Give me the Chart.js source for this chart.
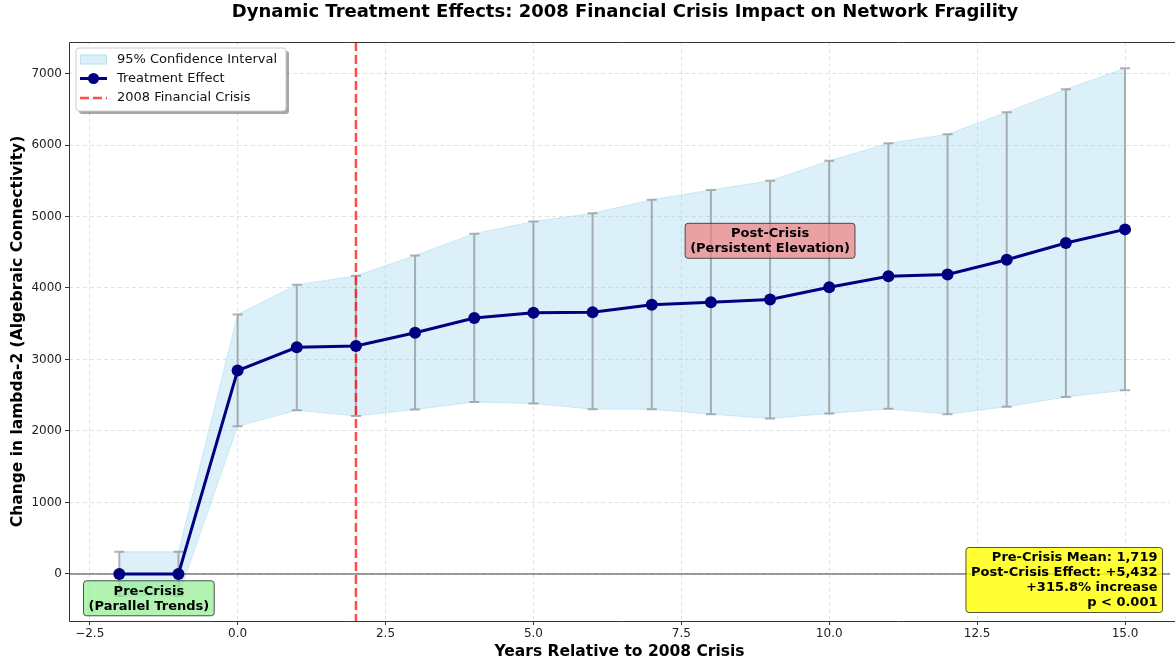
<!DOCTYPE html>
<html><head><meta charset="utf-8">
<script src="https://cdn.jsdelivr.net/npm/chart.js@4.4.0/dist/chart.umd.min.js"></script>
<style>html,body{margin:0;padding:0;background:#fff;}#wrap{width:1176px;height:663px;position:relative;}</style>
</head><body><div id="wrap"><canvas id="c" width="1176" height="663"></canvas></div>
<script>
// ---- data ----
const years = [-2,-1,0,1,2,3,4,5,6,7,8,9,10,11,12,13,14,15];
const effect  = [0,0,2845,3170,3190,3375,3580,3655,3660,3765,3800,3840,4010,4165,4190,4395,4630,4820];
const ciUpper = [310,310,3630,4045,4170,4455,4760,4930,5045,5235,5370,5500,5780,6025,6150,6460,6780,7075];
const ciLower = [-310,-310,2065,2290,2210,2300,2405,2385,2305,2305,2235,2175,2245,2310,2235,2340,2475,2570];
const xTicks = [-2.5,0,2.5,5,7.5,10,12.5,15];
const xTickLabels = ['\u22122.5','0.0','2.5','5.0','7.5','10.0','12.5','15.0'];
const yTicks = [0,1000,2000,3000,4000,5000,6000,7000];
const crisisYear = 2;
const seriesNames = ['95% Confidence Interval','Treatment Effect','2008 Financial Crisis'];
const titleText = 'Dynamic Treatment Effects: 2008 Financial Crisis Impact on Network Fragility';
const xTitle = 'Years Relative to 2008 Crisis';
const yTitle = 'Change in lambda-2 (Algebraic Connectivity)';
const preLabel = ['Pre-Crisis','(Parallel Trends)'];
const preAnchor = [-1.5, -340];
const postLabel = ['Post-Crisis','(Persistent Elevation)'];
const postAnchor = [9, 4660];
const statsLines = ['Pre-Crisis Mean: 1,719','Post-Crisis Effect: +5,432','+315.8% increase','p < 0.001'];

const FONT = "'DejaVu Sans', sans-serif";
const pts = arr => years.map((x,i)=>({x:x, y:arr[i]}));

function roundRect(ctx,x,y,w,h,r){
  ctx.beginPath();
  ctx.moveTo(x+r,y);ctx.lineTo(x+w-r,y);ctx.quadraticCurveTo(x+w,y,x+w,y+r);
  ctx.lineTo(x+w,y+h-r);ctx.quadraticCurveTo(x+w,y+h,x+w-r,y+h);
  ctx.lineTo(x+r,y+h);ctx.quadraticCurveTo(x,y+h,x,y+h-r);
  ctx.lineTo(x,y+r);ctx.quadraticCurveTo(x,y,x+r,y);ctx.closePath();
}

function textBox(ctx, lines, cx, cy, fill){
  ctx.save();
  ctx.font = "bold 13px " + FONT;
  const lh = 15;
  let w = 0; lines.forEach(l=>{w=Math.max(w,ctx.measureText(l).width);});
  const padX = 5, padY = 2.5;
  const bw = w + 2*padX, bh = lines.length*lh + 2*padY;
  const bx = cx - bw/2, by = cy - bh/2;
  roundRect(ctx,bx,by,bw,bh,3);
  ctx.fillStyle = fill; ctx.fill();
  ctx.strokeStyle = 'rgba(40,40,40,0.8)'; ctx.lineWidth = 1; ctx.stroke();
  ctx.fillStyle = '#000'; ctx.textBaseline = 'middle'; ctx.textAlign='center';
  lines.forEach((l,i)=>ctx.fillText(l, bx+bw/2, by + padY + lh*i + lh/2 + 0.5));
  ctx.restore();
}

const overlay = {
  id:'overlay',
  beforeDatasetDraw(chart, args){
    if (args.index !== 0) return;
    const ctx = chart.ctx, xs = chart.scales.x, ys = chart.scales.y, a = chart.chartArea;
    ctx.save();
    ctx.beginPath(); ctx.rect(a.left,a.top,a.right-a.left,a.bottom-a.top); ctx.clip();
    const y0 = ys.getPixelForValue(0);
    ctx.strokeStyle='rgba(0,0,0,0.5)'; ctx.lineWidth=1.5;
    ctx.beginPath(); ctx.moveTo(a.left,y0); ctx.lineTo(a.right,y0); ctx.stroke();
    ctx.strokeStyle='rgba(128,128,128,0.6)'; ctx.lineWidth=2;
    years.forEach((yr,i)=>{
      const px = xs.getPixelForValue(yr), pu = ys.getPixelForValue(ciUpper[i]), pl = ys.getPixelForValue(ciLower[i]);
      ctx.beginPath(); ctx.moveTo(px,pu); ctx.lineTo(px,pl);
      ctx.moveTo(px-5,pu); ctx.lineTo(px+5,pu);
      ctx.moveTo(px-5,pl); ctx.lineTo(px+5,pl); ctx.stroke();
    });
    const cx = xs.getPixelForValue(crisisYear);
    ctx.strokeStyle='rgba(255,0,0,0.7)'; ctx.lineWidth=2.5; ctx.setLineDash([9,4]);
    ctx.beginPath(); ctx.moveTo(cx,a.top); ctx.lineTo(cx,a.bottom); ctx.stroke();
    ctx.restore();
  },
  afterDraw(chart){
    const ctx = chart.ctx, xs = chart.scales.x, ys = chart.scales.y, a = chart.chartArea;
    ctx.save();
    ctx.strokeStyle='#333'; ctx.lineWidth=1;
    ctx.beginPath();
    ctx.moveTo(a.right+5, a.top+0.5); ctx.lineTo(a.left+0.5, a.top+0.5);
    ctx.lineTo(a.left+0.5, a.bottom+0.5); ctx.lineTo(a.right+5, a.bottom+0.5);
    ctx.stroke();
    ctx.fillStyle='#000'; ctx.font="bold 18px "+FONT; ctx.textAlign='center'; ctx.textBaseline='middle';
    ctx.fillText(titleText, 625, 12);
    textBox(ctx, preLabel, xs.getPixelForValue(preAnchor[0]), ys.getPixelForValue(preAnchor[1]), 'rgba(144,238,144,0.7)');
    textBox(ctx, postLabel, xs.getPixelForValue(postAnchor[0]), ys.getPixelForValue(postAnchor[1]), 'rgba(240,128,128,0.7)');
    (function(){
      ctx.save();
      ctx.font="bold 13px "+FONT;
      const lh=15; let w=0; statsLines.forEach(l=>{w=Math.max(w,ctx.measureText(l).width);});
      const padX=5,padY=2.5; const bw=w+2*padX, bh=statsLines.length*lh+2*padY;
      const right = 1162.5, bottom = 612.5;
      roundRect(ctx,right-bw,bottom-bh,bw,bh,3);
      ctx.fillStyle='rgba(255,255,0,0.8)'; ctx.fill();
      ctx.strokeStyle='rgba(40,40,40,0.8)'; ctx.lineWidth=1; ctx.stroke();
      ctx.fillStyle='#000'; ctx.textAlign='right'; ctx.textBaseline='middle';
      statsLines.forEach((l,i)=>ctx.fillText(l, right-padX, bottom-bh+padY+lh*i+lh/2+0.5));
      ctx.restore();
    })();
    const lx=76, ly=48, lw=210, lh=63;
    ctx.fillStyle='rgba(0,0,0,0.35)'; roundRect(ctx,lx+3,ly+3,lw,lh,3); ctx.fill();
    ctx.fillStyle='#fff'; roundRect(ctx,lx,ly,lw,lh,3); ctx.fill();
    ctx.strokeStyle='#ccc'; ctx.lineWidth=1; ctx.stroke();
    const rows=[59.5,78.5,98];
    ctx.fillStyle='rgba(135,206,235,0.3)'; ctx.fillRect(80,rows[0]-5,27,10);
    ctx.strokeStyle='rgba(135,206,235,0.4)'; ctx.strokeRect(80.5,rows[0]-4.5,26,9);
    ctx.strokeStyle='#000080'; ctx.lineWidth=3; ctx.beginPath(); ctx.moveTo(80,rows[1]); ctx.lineTo(107,rows[1]); ctx.stroke();
    ctx.fillStyle='#000080'; ctx.beginPath(); ctx.arc(93.5,rows[1],5.5,0,Math.PI*2); ctx.fill();
    ctx.strokeStyle='rgba(255,0,0,0.7)'; ctx.lineWidth=2.5; ctx.setLineDash([9,4]);
    ctx.beginPath(); ctx.moveTo(80,rows[2]); ctx.lineTo(107,rows[2]); ctx.stroke(); ctx.setLineDash([]);
    ctx.fillStyle='#111'; ctx.font="13px "+FONT; ctx.textAlign='left'; ctx.textBaseline='middle';
    seriesNames.forEach((n,i)=>ctx.fillText(n,117,rows[i]));
    ctx.restore();
  }
};

new Chart(document.getElementById('c'), {
  type:'line',
  data:{datasets:[
    {label:seriesNames[1], data:pts(effect), borderColor:'#000080', backgroundColor:'#000080', borderWidth:3,
     pointRadius:6, pointBackgroundColor:'#000080', pointBorderWidth:0, fill:false, tension:0},
    {label:'upper', data:pts(ciUpper), borderColor:'rgba(135,206,235,0.35)', borderWidth:1, pointRadius:0,
     backgroundColor:'rgba(135,206,235,0.3)', fill:'+1', tension:0},
    {label:'lower', data:pts(ciLower), borderColor:'rgba(135,206,235,0.35)', borderWidth:1, pointRadius:0, fill:false, tension:0}
  ]},
  options:{
    responsive:false, animation:false, events:[], devicePixelRatio:1,
    layout:{padding:{top:42,left:0,right:0,bottom:0}},
    plugins:{legend:{display:false}, tooltip:{enabled:false}, title:{display:false}},
    scales:{
      x:{type:'linear', min:-2.85, max:15.76,
        afterBuildTicks(s){ s.ticks = xTicks.map(v=>({value:v})); },
        afterFit(s){ s.height = 42; },
        ticks:{callback:(v)=>{const i=xTicks.indexOf(v); return i>=0?xTickLabels[i]:'';}, font:{family:FONT,size:12}, color:'#222', padding:2, maxRotation:0, autoSkip:false},
        grid:{color:'rgba(160,160,160,0.3)', tickColor:'#333', tickLength:4, lineWidth:1},
        border:{display:false, dash:[4,3]},
        title:{display:true, text:xTitle, font:{family:FONT,size:15.5,weight:'bold'}, color:'#000', padding:{top:0,bottom:2}}
      },
      y:{type:'linear', min:-658, max:7441,
        afterBuildTicks(s){ s.ticks = yTicks.map(v=>({value:v})); },
        afterFit(s){ s.width = 69; },
        ticks:{callback:(v)=>String(v), font:{family:FONT,size:12}, color:'#222', padding:3},
        grid:{color:'rgba(160,160,160,0.3)', tickColor:'#333', tickLength:4, lineWidth:1},
        border:{display:false, dash:[4,3]},
        title:{display:true, text:yTitle, font:{family:FONT,size:15.5,weight:'bold'}, color:'#000', padding:{top:9,bottom:0}}
      }
    }
  },
  plugins:[overlay]
});
</script></body></html>
